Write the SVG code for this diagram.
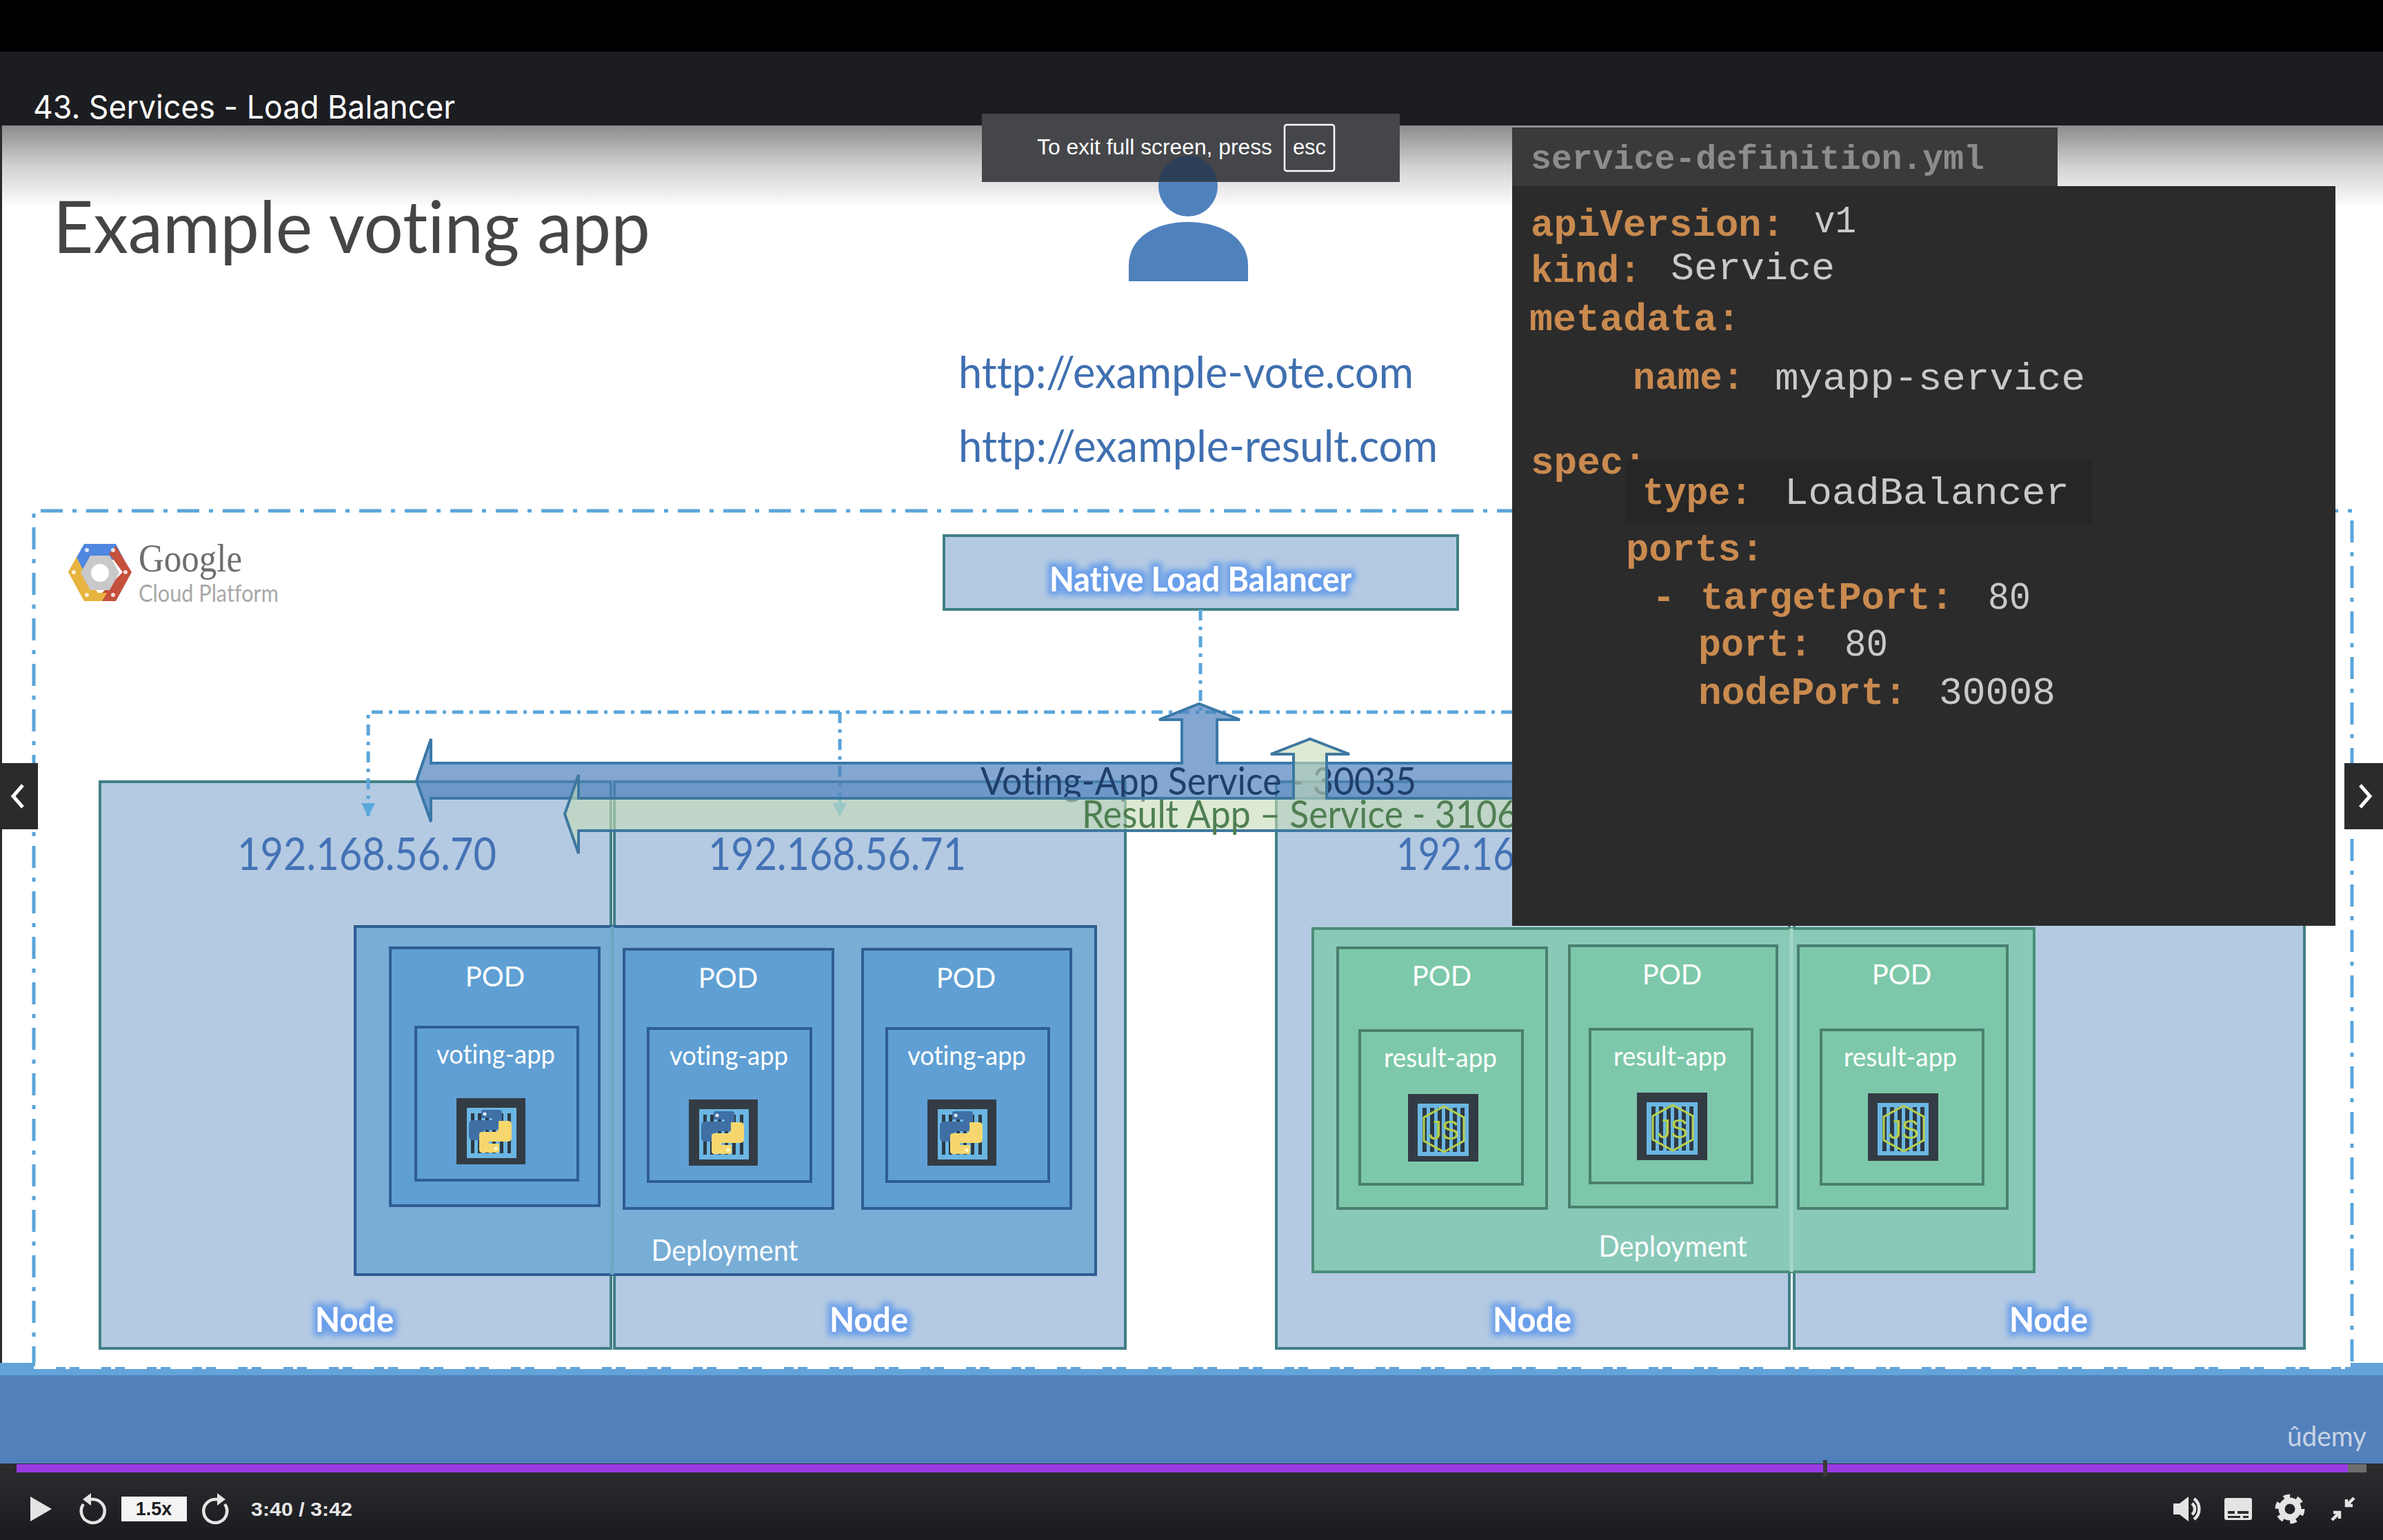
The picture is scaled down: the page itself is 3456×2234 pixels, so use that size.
<svg xmlns="http://www.w3.org/2000/svg" xmlns:xlink="http://www.w3.org/1999/xlink" width="3456" height="2234" viewBox="0 0 3456 2234">
<style>
text{font-family:"Lato","Open Sans","Liberation Sans",sans-serif;font-variant-ligatures:none}
.node{fill:#b4cae2;stroke:#3f8084;stroke-width:4}
.dep-b{fill:#78aed6;stroke:#2f5d93;stroke-width:4}
.pod-b{fill:#5f9fd3;stroke:#2f5d93;stroke-width:4}
.dep-g{fill:#89c9b8;stroke:#4a8f78;stroke-width:4}
.pod-g{fill:#7dc8aa;stroke:#4a8070;stroke-width:4}
.w{fill:#fff;text-anchor:middle}
.pod{font-size:40px}
.app{font-size:38px}
.lbl{font-size:42px}
.glow{font-size:50px;font-weight:700;fill:#fff;text-anchor:middle;filter:url(#glow)}
.ip{font-size:66px;fill:#4472b5}
.url{font-size:64px;fill:#3f6fb0}
.k{font-family:"Liberation Mono",monospace;font-weight:700;font-size:56px;fill:#c98a4f}
.v{font-family:"Liberation Mono",monospace;font-size:56px;fill:#c9c9c9}
.dash{fill:none;stroke:#5aa5da;stroke-width:5;stroke-dasharray:16 9 5 9}
.icon{fill:none;stroke:#e4e4e4;stroke-width:4.5}
.iconf{fill:#e4e4e4}
</style>
<defs>
<linearGradient id="topShade" x1="0" y1="0" x2="0" y2="1"><stop offset="0" stop-color="#8c8c8c"/><stop offset="0.5" stop-color="#d2d2d2"/><stop offset="1" stop-color="#fff"/></linearGradient>
<linearGradient id="ctrl" x1="0" y1="0" x2="0" y2="1"><stop offset="0" stop-color="#2c2d2f"/><stop offset="1" stop-color="#1a1b1f"/></linearGradient>
<filter id="glow" x="-25%" y="-50%" width="150%" height="200%">
<feMorphology in="SourceAlpha" operator="dilate" radius="6" result="d"/>
<feGaussianBlur in="d" stdDeviation="4" result="b"/>
<feFlood flood-color="#6a9fea"/><feComposite in2="b" operator="in" result="c"/>
<feMerge><feMergeNode in="c"/><feMergeNode in="SourceGraphic"/></feMerge>
</filter>
<clipPath id="toastClip"><rect x="1424" y="164" width="606" height="99"/></clipPath>
<marker id="tri" markerUnits="userSpaceOnUse" markerWidth="22" markerHeight="24" refX="20" refY="10" orient="auto"><path d="M0 0L20 10L0 20z" fill="#5aa9dc"/></marker>
<g id="py">
<rect width="100" height="96" fill="#333c44"/>
<rect x="15" y="14" width="72" height="73" fill="#6bb6e3"/>
<path d="M21 22h5v58h-5zM31 22h5v58h-5zM42 22h5v58h-5zM52 22h5v58h-5zM63 22h5v58h-5zM74 22h5v58h-5z" fill="#2d3a45"/>
<path d="M38 17h24q4 0 4 4v21q0 4-4 4H44q-6 0-6 6v9H24q-6 0-6-6V38q0-6 6-6H52v-3H36V21q0-4 2-4z" fill="#3f6fa5"/>
<path d="M60 79H37q-4 0-4-4V53q0-4 4-4h18q6 0 6-6v-10h14q5 0 5 6v18q0 6-6 6H47v3h15v9q0 4-2 4z" fill="#f5d76e"/>
<circle cx="41" cy="23" r="2.6" fill="#dfeaf5"/><circle cx="57" cy="73" r="2.6" fill="#fff6cf"/>
</g>
<g id="js">
<rect width="102" height="98" fill="#333c44"/>
<rect x="14" y="14" width="74" height="76" fill="#6bb6e3"/>
<path d="M21 20h6v64h-6zM32 20h6v64h-6zM43 20h6v64h-6zM54 20h6v64h-6zM65 20h6v64h-6zM76 20h6v64h-6z" fill="#2d3a45"/>
<path d="M52 18L81 34V68L52 84L23 68V34z" fill="none" stroke="#b6cf4e" stroke-width="3"/>
<text x="52" y="66" font-size="38" fill="#b6cf4e" text-anchor="middle" style="font-family:'Liberation Sans',sans-serif">JS</text>
</g>
</defs>

<rect width="3456" height="2234" fill="#000"/>
<rect y="75" width="3456" height="107" fill="#1c1d21"/>
<rect y="182" width="3456" height="1810" fill="#fff"/>
<rect y="182" width="3456" height="120" fill="url(#topShade)"/>
<rect y="182" width="3" height="1810" fill="#2a2a2a"/>
<text x="48" y="172" font-size="47" fill="#fff" textLength="612" lengthAdjust="spacingAndGlyphs" style="font-family:'Inter','Liberation Sans',sans-serif">43. Services - Load Balancer</text>
<text x="77" y="367" font-size="104" fill="#454545" textLength="866" lengthAdjust="spacingAndGlyphs">Example voting app</text>

<g id="user">
<ellipse cx="1723" cy="270" rx="43" ry="44" fill="#4f81bd"/>
<path d="M1637 408V385C1637 345 1675 322 1723 322S1810 345 1810 385V408z" fill="#4f81bd"/>
</g>
<text class="url" x="1390" y="563" textLength="660" lengthAdjust="spacingAndGlyphs">http://example-vote.com</text>
<text class="url" x="1390" y="670" textLength="695" lengthAdjust="spacingAndGlyphs">http://example-result.com</text>

<g id="cloud-boundary">
<path d="M49 1985V741H3411V1985" fill="none" stroke="#5aa5da" stroke-width="5" stroke-dasharray="32 14 6 14"/>
</g>
<g id="gcp-logo">
<path d="M122 789H168L180 812H132L113 845L99 830z" fill="#4f86e0"/>
<path d="M168 792L191 830L168 872H136L158 850L178 830L158 803z" fill="#c5503c"/>
<path d="M99 830L111 808L126 838L142 860H155L148 872H122z" fill="#e8b43f"/>
<path d="M131 806H159L173 831L159 856H131L117 831z" fill="#c9c9c9"/>
<circle cx="145" cy="831" r="13" fill="#fff"/>
<g fill="#fff" opacity=".8"><circle cx="126" cy="798" r="3"/><circle cx="164" cy="798" r="3"/><circle cx="182" cy="830" r="3"/><circle cx="164" cy="863" r="3"/><circle cx="126" cy="863" r="3"/><circle cx="107" cy="830" r="3"/></g>
<text x="201" y="829" font-size="56" fill="#6e6e6e" textLength="150" lengthAdjust="spacingAndGlyphs" style="font-family:'Liberation Serif',serif">Google</text>
<text x="201" y="873" font-size="34" fill="#a8a8a8" textLength="203" lengthAdjust="spacingAndGlyphs">Cloud Platform</text>
</g>

<g id="native-load-balancer">
<rect class="node" x="1369" y="777" width="745" height="107"/>
<text class="glow" x="1741" y="858" textLength="438" lengthAdjust="spacingAndGlyphs">Native Load Balancer</text>
</g>

<g id="node-1"><rect class="node" x="145" y="1134" width="741" height="822"/><text class="ip" x="344" y="1262" textLength="376" lengthAdjust="spacingAndGlyphs">192.168.56.70</text><text class="glow" x="514" y="1932" textLength="114" lengthAdjust="spacingAndGlyphs">Node</text></g>
<g id="node-2"><rect class="node" x="891" y="1134" width="741" height="822"/><text class="ip" x="1027" y="1262" textLength="374" lengthAdjust="spacingAndGlyphs">192.168.56.71</text><text class="glow" x="1260" y="1932" textLength="114" lengthAdjust="spacingAndGlyphs">Node</text></g>
<g id="node-3"><rect class="node" x="1851" y="1134" width="744" height="822"/><text class="ip" x="2025" y="1262" textLength="172" lengthAdjust="spacingAndGlyphs">192.16</text><text class="glow" x="2222" y="1932" textLength="114" lengthAdjust="spacingAndGlyphs">Node</text></g>
<g id="node-4"><rect class="node" x="2602" y="1134" width="740" height="822"/><text class="glow" x="2971" y="1932" textLength="114" lengthAdjust="spacingAndGlyphs">Node</text></g>

<g id="connectors">
<path class="dash" d="M1741 884V1033"/>
<path class="dash" d="M2193 1033H534V1185" marker-end="url(#tri)"/>
<path class="dash" d="M1218 1033V1185" marker-end="url(#tri)"/>
</g>

<g id="voting-app-service">
<path d="M604 1133L625 1072V1107H1714V1044H1681L1739 1021L1798 1044H1765V1107H2200V1158H625V1192z" fill="#4f81bd" fill-opacity=".7" stroke="#3a78a8" stroke-width="4" stroke-linejoin="miter"/>
<text x="1422" y="1153" font-size="57" fill="#1f3f6b" textLength="632" lengthAdjust="spacingAndGlyphs">Voting-App Service - 30035</text>
</g>
<g id="result-app-service">
<path d="M819 1181L839 1124V1158H1876V1094H1843L1900 1072L1957 1094H1924V1158H2200V1205H839V1238z" fill="#c6dcb5" fill-opacity=".6" stroke="#3f78a0" stroke-width="4"/>
<text x="1569" y="1201" font-size="57" fill="#4f7f52" textLength="632" lengthAdjust="spacingAndGlyphs">Result App – Service - 3106</text>
</g>

<g id="voting-deployment">
<rect class="dep-b" x="515" y="1344" width="1074" height="505"/>
<path d="M888 1344V1849" stroke="#6aa7c4" stroke-width="5"/>
<text class="w lbl" x="1051" y="1829" textLength="213" lengthAdjust="spacingAndGlyphs">Deployment</text>
</g>
<g id="voting-pod-1"><rect class="pod-b" x="566" y="1375" width="303" height="374"/><rect class="pod-b" x="603" y="1490" width="235" height="222"/><text class="w pod" x="718" y="1431">POD</text><text class="w app" x="719" y="1543" textLength="172" lengthAdjust="spacingAndGlyphs">voting-app</text><use xlink:href="#py" href="#py" x="662" y="1593"/></g>
<g id="voting-pod-2"><rect class="pod-b" x="905" y="1377" width="303" height="376"/><rect class="pod-b" x="940" y="1492" width="236" height="222"/><text class="w pod" x="1056" y="1433">POD</text><text class="w app" x="1057" y="1545" textLength="172" lengthAdjust="spacingAndGlyphs">voting-app</text><use xlink:href="#py" href="#py" x="999" y="1595"/></g>
<g id="voting-pod-3"><rect class="pod-b" x="1251" y="1377" width="302" height="376"/><rect class="pod-b" x="1286" y="1492" width="235" height="222"/><text class="w pod" x="1401" y="1433">POD</text><text class="w app" x="1402" y="1545" textLength="172" lengthAdjust="spacingAndGlyphs">voting-app</text><use xlink:href="#py" href="#py" x="1345" y="1595"/></g>

<g id="result-deployment">
<rect class="dep-g" x="1904" y="1347" width="1046" height="498"/>
<path d="M2598 1347V1845" stroke="#a4d6c6" stroke-width="5"/>
<text class="w lbl" x="2426" y="1823" textLength="215" lengthAdjust="spacingAndGlyphs">Deployment</text>
</g>
<g id="result-pod-1"><rect class="pod-g" x="1940" y="1375" width="303" height="378"/><rect class="pod-g" x="1972" y="1495" width="236" height="223"/><text class="w pod" x="2091" y="1430">POD</text><text class="w app" x="2089" y="1548" textLength="164" lengthAdjust="spacingAndGlyphs">result-app</text><use xlink:href="#js" href="#js" x="2042" y="1587"/></g>
<g id="result-pod-2"><rect class="pod-g" x="2276" y="1372" width="301" height="379"/><rect class="pod-g" x="2306" y="1493" width="235" height="223"/><text class="w pod" x="2425" y="1428">POD</text><text class="w app" x="2422" y="1546" textLength="164" lengthAdjust="spacingAndGlyphs">result-app</text><use xlink:href="#js" href="#js" x="2374" y="1585"/></g>
<g id="result-pod-3"><rect class="pod-g" x="2608" y="1372" width="303" height="381"/><rect class="pod-g" x="2641" y="1494" width="235" height="224"/><text class="w pod" x="2758" y="1428">POD</text><text class="w app" x="2756" y="1547" textLength="164" lengthAdjust="spacingAndGlyphs">result-app</text><use xlink:href="#js" href="#js" x="2709" y="1586"/></g>

<g id="yaml-panel">
<rect x="2193" y="185" width="791" height="90" fill="#3a3a3c"/>
<rect x="2193" y="270" width="1194" height="1073" fill="#2b2b2c"/>
<text class="k" style="fill:#8c8c8c;font-size:50px" x="2220" y="245" textLength="658" lengthAdjust="spacingAndGlyphs">service-definition.yml</text>
<text class="k" x="2220" y="342" textLength="368" lengthAdjust="spacingAndGlyphs">apiVersion:</text><text class="v" x="2631" y="337" textLength="61" lengthAdjust="spacingAndGlyphs">v1</text>
<text class="k" x="2220" y="409" textLength="160" lengthAdjust="spacingAndGlyphs">kind:</text><text class="v" x="2423" y="405" textLength="238" lengthAdjust="spacingAndGlyphs">Service</text>
<text class="k" x="2218" y="479" textLength="306" lengthAdjust="spacingAndGlyphs">metadata:</text>
<text class="k" x="2368" y="564" textLength="162" lengthAdjust="spacingAndGlyphs">name:</text><text class="v" x="2574" y="565" textLength="450" lengthAdjust="spacingAndGlyphs">myapp-service</text>
<text class="k" x="2220" y="687" textLength="168" lengthAdjust="spacingAndGlyphs">spec:</text>
<rect x="2357" y="668" width="677" height="92" fill="#262627"/>
<text class="k" x="2382" y="731" textLength="159" lengthAdjust="spacingAndGlyphs">type:</text><text class="v" x="2588" y="731" textLength="413" lengthAdjust="spacingAndGlyphs">LoadBalancer</text>
<text class="k" x="2358" y="813" textLength="200" lengthAdjust="spacingAndGlyphs">ports:</text>
<text class="k" x="2396" y="883">-</text><text class="k" x="2466" y="883" textLength="367" lengthAdjust="spacingAndGlyphs">targetPort:</text><text class="v" x="2883" y="883" textLength="62" lengthAdjust="spacingAndGlyphs">80</text>
<text class="k" x="2463" y="951" textLength="165" lengthAdjust="spacingAndGlyphs">port:</text><text class="v" x="2675" y="951" textLength="63" lengthAdjust="spacingAndGlyphs">80</text>
<text class="k" x="2463" y="1021" textLength="303" lengthAdjust="spacingAndGlyphs">nodePort:</text><text class="v" x="2812" y="1021" textLength="169" lengthAdjust="spacingAndGlyphs">30008</text>
</g>

<g id="toast">
<rect x="1424" y="165" width="606" height="99" fill="#45464a"/>
<ellipse cx="1723" cy="270" rx="43" ry="44" fill="#2d3f58" clip-path="url(#toastClip)"/>
<text x="1504" y="224" font-size="31" fill="#fff" textLength="341" lengthAdjust="spacingAndGlyphs" style="font-family:'Liberation Sans',sans-serif">To exit full screen, press</text>
<rect x="1863" y="181" width="72" height="67" rx="3" fill="none" stroke="#fff" stroke-width="2.5"/>
<text x="1899" y="224" font-size="31" fill="#fff" text-anchor="middle" style="font-family:'Liberation Sans',sans-serif">esc</text>
</g>

<g id="player-bottom">
<rect y="1977" width="3456" height="18" fill="#62a4da"/>
<rect x="51" y="1977" width="3358" height="6" fill="#fff"/>
<path d="M49 1984H3411" stroke="#fff" stroke-width="4" stroke-dasharray="32 14 6 14"/>
<rect y="1995" width="3456" height="128" fill="#5280bb"/>
<rect y="2123" width="3456" height="111" fill="url(#ctrl)"/>
<rect x="24" y="2124" width="3381" height="12" fill="#983be3"/>
<rect x="3405" y="2124" width="27" height="12" fill="#6d6d70"/>
<rect x="2644" y="2118" width="6" height="24" fill="#3a3a3c"/>
<text x="3317" y="2098" font-size="40" fill="#c8d4e4" textLength="115" lengthAdjust="spacingAndGlyphs">ûdemy</text>
<path class="iconf" d="M44 2171L75 2189L44 2207z"/>
<path class="icon" d="M121 2182A17 17 0 1 0 134 2175H126"/><path class="iconf" d="M132 2166L120 2175L132 2184z"/>
<rect x="176" y="2171" width="95" height="36" fill="#f4f4f4"/>
<text x="223" y="2198" font-size="27" font-weight="700" fill="#1c1d1f" text-anchor="middle" style="font-family:'Liberation Sans',sans-serif">1.5x</text>
<path class="icon" d="M326 2182A17 17 0 1 1 313 2175H321"/><path class="iconf" d="M315 2166L327 2175L315 2184z"/>
<text x="364" y="2199" font-size="28" font-weight="700" fill="#e8e8e8" textLength="147" lengthAdjust="spacingAndGlyphs" style="font-family:'Liberation Sans',sans-serif">3:40 / 3:42</text>
<path class="iconf" d="M3152 2181H3161L3174 2171V2207L3161 2197H3152z"/><path class="icon" d="M3179 2181A10 10 0 0 1 3179 2197M3182 2174A19 19 0 0 1 3182 2204"/>
<rect x="3226" y="2173" width="40" height="32" rx="3" fill="#e4e4e4"/><path d="M3231 2192h10v4h-10zM3245 2192h16v4h-16zM3231 2199h18v3h-18zM3253 2199h8v3h-8z" fill="#2a2b2d"/>
<circle cx="3321" cy="2189" r="12" fill="none" stroke="#e4e4e4" stroke-width="9"/><circle cx="3321" cy="2189" r="18" fill="none" stroke="#e4e4e4" stroke-width="7" stroke-dasharray="9 9.85"/>
<path class="icon" d="M3382 2205L3393 2194M3384 2194H3393V2203M3414 2173L3403 2184M3403 2175V2184H3412"/>
<g id="nav-prev"><rect y="1107" width="55" height="96" fill="#2a2b2d"/><path d="M33 1139L19 1155L33 1171" fill="none" stroke="#fff" stroke-width="5"/></g>
<g id="nav-next"><rect x="3400" y="1107" width="56" height="96" fill="#2a2b2d"/><path d="M3423 1139L3437 1155L3423 1171" fill="none" stroke="#fff" stroke-width="5"/></g>
</g>
</svg>
